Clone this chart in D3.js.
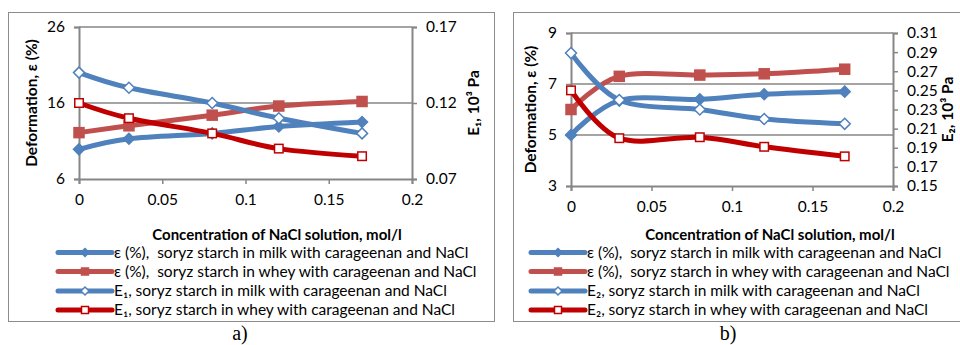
<!DOCTYPE html>
<html>
<head>
<meta charset="utf-8">
<script src="https://cdn.jsdelivr.net/npm/d3@7"></script>
<style>
  body { margin: 0; background: #fff; }
  svg { display: block; font-family: Lato, "Open Sans", sans-serif; }
  text { white-space: pre; }
</style>
</head>
<body>
<div id="chart"></div>
<script>
// NaCl concentration (mol/l) shared by both panels
const concentration = [0, 0.03, 0.08, 0.12, 0.17];

// panel a)
const epsMilkA = [9.9, 11.3, 12.0, 12.9, 13.5];
const epsWheyA = [12.1, 13.0, 14.4, 15.6, 16.2];
const e1Milk = [0.140, 0.130, 0.120, 0.110, 0.100];
const e1Whey = [0.120, 0.110, 0.100, 0.090, 0.085];

// panel b)
const epsMilkB = [5.0, 6.35, 6.4, 6.6, 6.7];
const epsWheyB = [6.0, 7.3, 7.35, 7.4, 7.58];
const e2Milk = [0.289, 0.240, 0.230, 0.220, 0.215];
const e2Whey = [0.250, 0.200, 0.201, 0.191, 0.181];

// tick labels
const xTicks = [0, 0.05, 0.1, 0.15, 0.2];
const leftTicksA = [6, 16, 26];
const rightTicksA = [0.07, 0.12, 0.17];
const leftTicksB = [3, 5, 7, 9];
const rightTicksB = [0.15, 0.17, 0.19, 0.21, 0.23, 0.25, 0.27, 0.29, 0.31];

const legendA = [
  "ε (%),  soryz starch in milk with carageenan and NaCl",
  "ε (%),  soryz starch in whey with carageenan and NaCl",
  "E₁, soryz starch in milk with carageenan and NaCl",
  "E₁, soryz starch in whey with carageenan and NaCl"
];
const legendB = [
  "ε (%),  soryz starch in milk with carageenan and NaCl",
  "ε (%),  soryz starch in whey with carageenan and NaCl",
  "E₂, soryz starch in milk with carageenan and NaCl",
  "E₂, soryz starch in whey with carageenan and NaCl"
];

const BLUE = "#4f81bd", LIGHTRED = "#c0504d", DARKRED = "#c00000";
const GRID = "#868686";
const FS = "15.5px";

const svg = d3.select("#chart").append("svg")
  .attr("width", 960).attr("height", 345);

// series styling: color, marker type, filled?, axis
const styles = [
  { color: BLUE, marker: "diamond", filled: true, axis: "left" },
  { color: LIGHTRED, marker: "square", filled: true, axis: "left" },
  { color: BLUE, marker: "diamond", filled: false, axis: "right" },
  { color: DARKRED, marker: "square", filled: false, axis: "right" }
];

function drawMarker(g, type, filled, color, x, y, big) {
  if (type === "diamond") {
    const r = big ? 5.5 : 4;
    g.append("path")
      .attr("d", `M${x},${y - r}L${x + r},${y}L${x},${y + r}L${x - r},${y}Z`)
      .attr("fill", filled ? color : "#fff")
      .attr("stroke", color).attr("stroke-width", 1.5);
  } else {
    const s = big ? (filled ? 10 : 8.5) : 7;
    g.append("rect")
      .attr("x", x - s / 2).attr("y", y - s / 2)
      .attr("width", s).attr("height", s)
      .attr("fill", filled ? color : "#fff")
      .attr("stroke", color).attr("stroke-width", 1.5);
  }
}

function drawPanel(p) {
  const g = svg.append("g");

  // outer frame
  g.append("rect")
    .attr("x", p.frame[0] + 0.5).attr("y", p.frame[1] + 0.5)
    .attr("width", p.frame[2]).attr("height", p.frame[3])
    .attr("fill", "none").attr("stroke", "#8c8c8c").attr("stroke-width", 1);

  const x = d3.scaleLinear().domain([0, 0.2]).range([p.plot.left, p.plot.right]);
  const yL = d3.scaleLinear().domain(d3.extent(p.leftTicks)).range([p.plot.bottom, p.plot.top]);
  const yR = d3.scaleLinear().domain(d3.extent(p.rightTicks)).range([p.plot.bottom, p.plot.top]);

  // gridlines
  g.selectAll(".grid").data(p.leftTicks.slice(1)).join("line")
    .attr("x1", p.plot.left).attr("x2", p.plot.right)
    .attr("y1", d => yL(d)).attr("y2", d => yL(d))
    .attr("stroke", GRID).attr("stroke-width", 1.5);

  const axisStyle = sel => {
    sel.attr("font-family", null).attr("font-size", null);
    sel.select(".domain").attr("stroke", GRID).attr("stroke-width", 2);
    sel.selectAll(".tick line").attr("stroke", GRID).attr("stroke-width", 1.5);
    sel.selectAll(".tick text").attr("fill", "#000").style("font-size", FS);
  };

  g.append("g")
    .attr("transform", `translate(0,${p.plot.bottom})`)
    .call(d3.axisBottom(x).tickValues(xTicks).tickSizeOuter(0).tickSize(5).tickPadding(10)
      .tickFormat(d3.format("")))
    .call(axisStyle);

  g.append("g")
    .attr("transform", `translate(${p.plot.left},0)`)
    .call(d3.axisLeft(yL).tickValues(p.leftTicks).tickSizeOuter(0).tickSize(5).tickPadding(9)
      .tickFormat(d3.format("d")))
    .call(axisStyle);

  g.append("g")
    .attr("transform", `translate(${p.plot.right},0)`)
    .call(d3.axisRight(yR).tickValues(p.rightTicks).tickSizeOuter(0).tickSize(5).tickPadding(9)
      .tickFormat(d3.format(".2f")))
    .call(axisStyle);

  // series
  const line = d3.line().curve(d3.curveCardinal.tension(0));
  p.series.forEach((vals, i) => {
    const st = styles[i];
    const y = st.axis === "left" ? yL : yR;
    const pts = vals.map((v, j) => [x(concentration[j]), y(v)]);
    g.append("path")
      .attr("d", line(pts))
      .attr("fill", "none").attr("stroke", st.color)
      .attr("stroke-width", 5).attr("stroke-linejoin", "round");
    pts.forEach(pt => drawMarker(g, st.marker, st.filled, st.color, pt[0], pt[1], true));
  });

  // axis titles
  g.append("text")
    .attr("transform", `translate(${p.leftTitleX},${(p.plot.top + p.plot.bottom) / 2}) rotate(-90)`)
    .attr("text-anchor", "middle").attr("dy", "0.35em")
    .style("font-weight", "700").style("font-size", FS)
    .text("Deformation, ε (%)");

  g.append("text")
    .attr("transform", `translate(${p.rightTitleX},${(p.plot.top + p.plot.bottom) / 2}) rotate(-90)`)
    .attr("text-anchor", "middle").attr("dy", "0.35em")
    .style("font-weight", "700").style("font-size", FS)
    .text(p.rightTitle);

  g.append("text")
    .attr("x", p.xTitleX).attr("y", 234.5).attr("dy", "0.35em")
    .attr("text-anchor", "middle")
    .style("font-weight", "700").style("font-size", "15px")
    .text("Concentration of NaCl solution, mol/l");

  // legend
  const rowY = [252.5, 271.5, 291, 310];
  p.legend.forEach((label, i) => {
    const st = styles[i];
    const lx = p.legendX;
    g.append("line")
      .attr("x1", lx).attr("x2", lx + 54)
      .attr("y1", rowY[i]).attr("y2", rowY[i])
      .attr("stroke", st.color).attr("stroke-width", 5).attr("stroke-linecap", "round");
    drawMarker(g, st.marker, st.filled, st.color, lx + 27, rowY[i], false);
    g.append("text")
      .attr("x", lx + 56).attr("y", rowY[i]).attr("dy", "0.35em")
      .style("font-size", FS)
      .text(label);
  });

  // caption
  svg.append("text")
    .attr("x", p.captionX).attr("y", 333).attr("dy", "0.35em")
    .attr("text-anchor", "middle")
    .style("font-family", "'Liberation Serif', serif").style("font-size", "20px")
    .text(p.caption);
}

drawPanel({
  frame: [8, 12, 486, 309],
  plot: { left: 79, right: 412, top: 27, bottom: 179 },
  leftTicks: leftTicksA, rightTicks: rightTicksA,
  series: [epsMilkA, epsWheyA, e1Milk, e1Whey],
  leftTitleX: 32, rightTitleX: 474, rightTitle: "E₁, 10³ Pa",
  xTitleX: 277, legendX: 58, legend: legendA,
  captionX: 240, caption: "a)"
});

drawPanel({
  frame: [513, 12, 460, 309],
  plot: { left: 571, right: 893, top: 33, bottom: 186 },
  leftTicks: leftTicksB, rightTicks: rightTicksB,
  series: [epsMilkB, epsWheyB, e2Milk, e2Whey],
  leftTitleX: 531, rightTitleX: 948, rightTitle: "E₂, 10³ Pa",
  xTitleX: 770, legendX: 531, legend: legendB,
  captionX: 728, caption: "b)"
});
</script>
</body>
</html>
